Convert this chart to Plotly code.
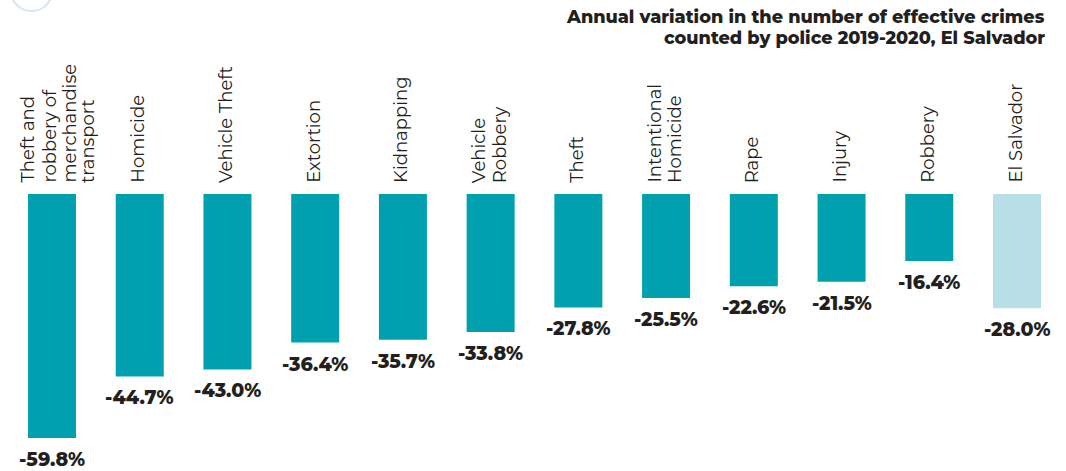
import plotly.graph_objects as go

categories = ["Theft and<br>robbery of<br>merchandise<br>transport", "Homicide", "Vehicle Theft",
              "Extortion", "Kidnapping", "Vehicle<br>Robbery", "Theft", "Intentional<br>Homicide",
              "Rape", "Injury", "Robbery", "El Salvador"]
values = [-59.8, -44.7, -43.0, -36.4, -35.7, -33.8, -27.8, -25.5, -22.6, -21.5, -16.4, -28.0]
labels = ["-59.8%", "-44.7%", "-43.0%", "-36.4%", "-35.7%", "-33.8%", "-27.8%", "-25.5%",
          "-22.6%", "-21.5%", "-16.4%", "-28.0%"]
title_lines = ["Annual variation in the number of effective crimes",
               "counted by police 2019-2020, El Salvador"]

TEAL = "#00A0AE"
LIGHT = "#B8DEE8"
colors = [TEAL] * (len(values) - 1) + [LIGHT]
xs = list(range(len(values)))

W, H = 1066, 471
pxper = 4.08
base_px = 194
ytop = base_px / pxper
ybot = -(H - base_px) / pxper
step = 87.73
c0, c11 = 52, 1017
xmin = -c0 / step
xmax = 11 + (W - c11) / step

FONT = "Montserrat, Open Sans, sans-serif"
DARK = "#231F20"

fig = go.Figure()
fig.add_trace(go.Bar(x=xs, y=values, marker=dict(color=colors, line=dict(width=0)),
                     width=48 / step, hoverinfo="skip"))

line_offsets = {1: [-1], 2: [-11, 10], 4: [-24, -2, 18, 37]}
for i, (v, lab, cat) in enumerate(zip(values, labels, categories)):
    fig.add_annotation(x=i, y=v, yref="y", xref="x", text=lab, showarrow=False,
                       yanchor="top", yshift=-8,
                       font=dict(family=FONT, size=19, color=DARK, weight=800))
    parts = cat.split("<br>")
    for off, part in zip(line_offsets[len(parts)], parts):
        fig.add_annotation(x=i, y=0, yref="y", xref="x", text=part, showarrow=False,
                           textangle=-90, yanchor="bottom", xanchor="center",
                           yshift=9, xshift=off - 1,
                           font=dict(family=FONT, size=18, color=DARK, weight=400))

for k, (t, yc) in enumerate(zip(title_lines, [17, 38])):
    fig.add_annotation(xref="paper", yref="paper", x=1047 / W, y=1 - yc / H, xanchor="right", yanchor="middle",
                       showarrow=False, text=t,
                       font=dict(family=FONT, size=17.7, color=DARK, weight=800))

fig.add_shape(type="circle", xref="paper", yref="paper",
              x0=10.5 / W, x1=52.5 / W, y0=1 - 11 / H, y1=1 + 31 / H,
              line=dict(color="#CDE9EF", width=2))

fig.update_layout(width=W, height=H, margin=dict(l=0, r=0, t=0, b=0),
                  paper_bgcolor="white", plot_bgcolor="white", showlegend=False,
                  xaxis=dict(range=[xmin, xmax], visible=False, fixedrange=True),
                  yaxis=dict(range=[ybot, ytop], visible=False, fixedrange=True))

fig.write_html("out.html", config={"displayModeBar": False},
               post_script="document.body.style.margin='0px';document.body.style.overflow='hidden';")
